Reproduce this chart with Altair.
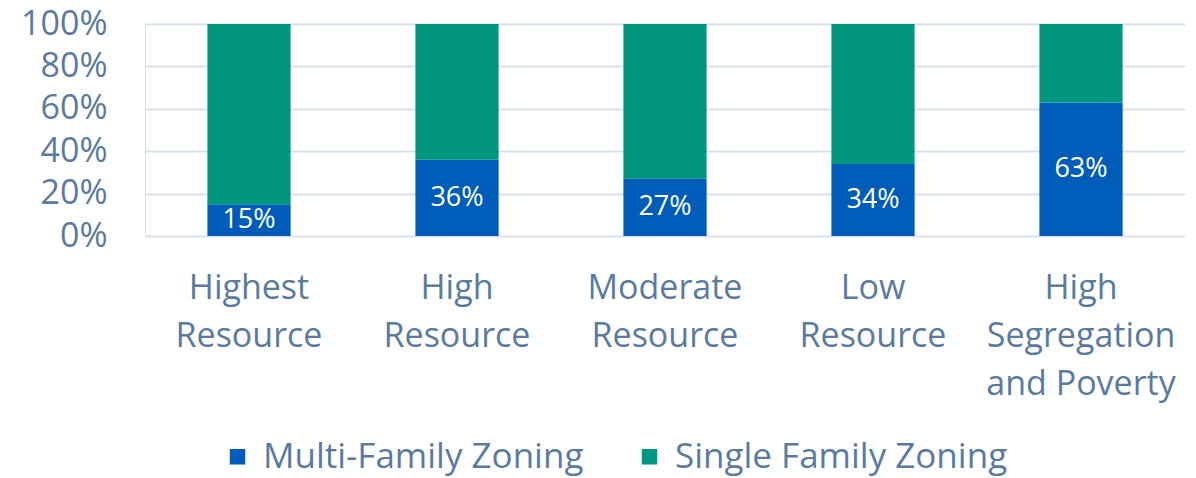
import altair as alt
import pandas as pd

categories = ["Highest Resource", "High Resource", "Moderate Resource", "Low Resource", "High Segregation and Poverty"]
series = ["Multi-Family Zoning", "Single Family Zoning"]
multi_family = [15, 36, 27, 34, 63]
single_family = [85, 64, 73, 66, 37]
y_ticks = [0, 20, 40, 60, 80, 100]

rows = []
for c, m, s in zip(categories, multi_family, single_family):
    rows.append({"category": c, "series": series[0], "value": m, "order": 0, "mid": m / 2})
    rows.append({"category": c, "series": series[1], "value": s, "order": 1, "mid": None})
df = pd.DataFrame(rows)

TEXT = "#5B7B9E"
FONT = "Open Sans"

x = alt.X(
    "category:N",
    sort=categories,
    title=None,
    scale=alt.Scale(paddingInner=0.6, paddingOuter=0.3),
    axis=alt.Axis(
        labelAngle=0,
        labelFontSize=34,
        labelFont=FONT,
        labelColor=TEXT,
        labelLineHeight=48,
        labelPadding=35,
        labelLimit=400,
        domain=False,
        ticks=False,
        labelExpr="datum.label == 'High Segregation and Poverty' ? ['High', 'Segregation', 'and Poverty'] : split(datum.label, ' ')",
    ),
)

bars = alt.Chart(df).mark_bar().encode(
    x=x,
    y=alt.Y(
        "value:Q",
        stack="zero",
        title=None,
        scale=alt.Scale(domain=[0, 100], nice=False),
        axis=alt.Axis(
            values=y_ticks,
            labelExpr="datum.value + '%'",
            labelFontSize=34,
            labelFont=FONT,
            labelColor=TEXT,
            labelPadding=38,
            domain=False,
            ticks=False,
            gridColor="#D9E2EC",
            gridWidth=2,
        ),
    ),
    color=alt.Color(
        "series:N",
        sort=series,
        scale=alt.Scale(domain=series, range=["#005CB9", "#00967F"]),
        legend=alt.Legend(
            title=None,
            orient="none",
            direction="horizontal",
            legendX=75,
            legendY=415,
            symbolType="square",
            symbolSize=240,
            symbolStrokeWidth=0,
            labelFontSize=35,
            labelFont=FONT,
            labelColor=TEXT,
            labelLimit=500,
            columnPadding=48,
            symbolOffset=0,
            labelOffset=8,
        ),
    ),
    order=alt.Order("order:Q"),
)

labels = alt.Chart(df).transform_filter("datum.order == 0").mark_text(
    color="white", fontSize=27, font=FONT, baseline="middle", align="center"
).encode(
    x=alt.X("category:N", sort=categories),
    y=alt.Y("mid:Q"),
    text=alt.Text("label:N"),
).transform_calculate(label="datum.value + '%'")

chart = alt.layer(bars, labels).properties(
    width=1040,
    height=212,
    autosize=alt.AutoSizeParams(type="none"),
    padding={"left": 137, "top": 16, "right": 0, "bottom": 244},
).configure_view(stroke=None).configure(font=FONT)

chart.save("out.html", embed_options={"renderer": "svg", "actions": False})
